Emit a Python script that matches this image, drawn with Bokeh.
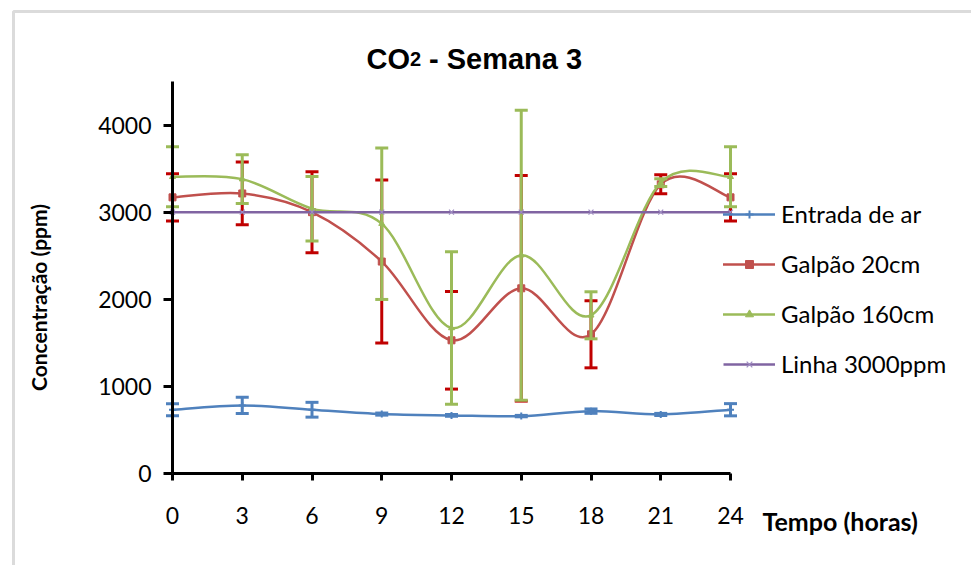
import numpy as np
from bokeh.plotting import figure
from bokeh.models import (ColumnDataSource, FixedTicker, Label, Legend, LegendItem,
                          BoxAnnotation, Range1d)
from bokeh.embed import file_html
from bokeh.resources import INLINE

# ---- data (CO2 concentration, ppm) ----
hours = [0, 3, 6, 9, 12, 15, 18, 21, 24]
entrada = [732, 782, 732, 682, 667, 659, 716, 678, 732]
entrada_err = [70, 93, 85, 12, 10, 8, 25, 12, 70]
galpao20 = [3170, 3215, 3000, 2433, 1529, 2126, 1598, 3320, 3170]
galpao20_err = [272, 360, 465, 935, 560, 1295, 385, 110, 272]
galpao160 = [3406, 3379, 3040, 2868, 1670, 2506, 1816, 3340, 3406]
galpao160_err = [345, 280, 370, 870, 875, 1665, 270, 45, 345]
linha = [3000] * len(hours)

x_ticks = [0, 3, 6, 9, 12, 15, 18, 21, 24]
y_ticks = [0, 1000, 2000, 3000, 4000]

W, H = 971, 565
# plot area (axes box) in canvas pixels
AX_L, AX_R, AX_T, AX_B = 172, 730, 81, 473
X_MAX, Y_MAX = 24, 4500


def dx(px):
    """canvas x pixel -> data x"""
    return (px - AX_L) * X_MAX / (AX_R - AX_L)


def dy(py):
    """canvas y pixel -> data y"""
    return (AX_B - py) * Y_MAX / (AX_B - AX_T)


# the frame spans the whole canvas so titles, legend and border are not clipped
p = figure(width=W, height=H, output_backend="svg", toolbar_location=None,
           x_range=Range1d(dx(0), dx(W)), y_range=Range1d(dy(H), dy(0)),
           min_border=0)
p.background_fill_color = "white"
p.border_fill_color = "white"
p.outline_line_color = None
p.grid.visible = False

for ax in (p.xaxis[0], p.yaxis[0]):
    ax.fixed_location = 0
    ax.axis_line_width = 3
    ax.axis_line_color = "black"
    ax.major_tick_line_width = 3
    ax.major_tick_line_color = "black"
    ax.major_tick_in = 0
    ax.minor_tick_line_color = None
    ax.major_label_text_font = "Lato"
    ax.major_label_text_font_size = "23px"
    ax.major_label_text_color = "black"

p.xaxis.bounds = (0, X_MAX)
p.xaxis.ticker = FixedTicker(ticks=x_ticks)
p.xaxis.major_tick_out = 7
p.xaxis.major_label_standoff = 26
p.yaxis.bounds = (0, Y_MAX)
p.yaxis.ticker = FixedTicker(ticks=y_ticks)
p.yaxis.major_tick_out = 9
p.yaxis.major_label_standoff = 12


def smooth_segments(xs, ys):
    """Cubic Bezier segments (Catmull-Rom style) through the data points."""
    x = np.asarray(xs, float)
    y = np.asarray(ys, float)
    xp = np.concatenate([[x[0]], x, [x[-1]]])
    yp = np.concatenate([[y[0]], y, [y[-1]]])
    d = dict(x0=[], y0=[], x1=[], y1=[], cx0=[], cy0=[], cx1=[], cy1=[])
    for i in range(len(x) - 1):
        x0, x1, x2, x3 = xp[i], xp[i + 1], xp[i + 2], xp[i + 3]
        y0, y1, y2, y3 = yp[i], yp[i + 1], yp[i + 2], yp[i + 3]
        d["x0"].append(x1); d["y0"].append(y1)
        d["x1"].append(x2); d["y1"].append(y2)
        d["cx0"].append(x1 + (x2 - x0) / 6); d["cy0"].append(y1 + (y2 - y0) / 6)
        d["cx1"].append(x2 - (x3 - x1) / 6); d["cy1"].append(y2 - (y3 - y1) / 6)
    return ColumnDataSource(d)


series = [
    ("Entrada de ar", entrada, entrada_err, "#4F81BD", "#4F81BD", "cross", 7),
    ("Galpão 20cm", galpao20, galpao20_err, "#C0504D", "#C00000", "square", 7),
    ("Galpão 160cm", galpao160, galpao160_err, "#9BBB59", "#9BBB59", "triangle", 6),
]

items = []
for name, vals, err, col, ecol, marker, msize in series:
    line = p.bezier(x0="x0", y0="y0", x1="x1", y1="y1", cx0="cx0", cy0="cy0",
                    cx1="cx1", cy1="cy1", source=smooth_segments(hours, vals),
                    line_color=col, line_width=2.5, line_cap="round")
    lo = [v - e for v, e in zip(vals, err)]
    hi = [v + e for v, e in zip(vals, err)]
    src = ColumnDataSource(dict(x=hours, y=vals, lo=lo, hi=hi))
    p.segment(x0="x", y0="lo", x1="x", y1="hi", source=src,
              line_color=ecol, line_width=3)
    p.scatter(x="x", y="lo", source=src, marker="dash", size=13,
              line_color=ecol, line_width=3)
    p.scatter(x="x", y="hi", source=src, marker="dash", size=13,
              line_color=ecol, line_width=3)
    if marker == "cross":
        mk = p.scatter(x="x", y="y", source=src, marker=marker, size=msize,
                       line_color=col, line_width=2)
    else:
        mk = p.scatter(x="x", y="y", source=src, marker=marker, size=msize,
                       line_color=col, fill_color=col)
    items.append(LegendItem(label=name, renderers=[line, mk]))

lsrc = ColumnDataSource(dict(x=hours, y=linha))
pl = p.line(x="x", y="y", source=lsrc, line_color="#8064A2", line_width=2.5)
pm = p.scatter(x="x", y="y", source=lsrc, marker="x", size=7,
               line_color="#9F8CC2", line_width=1.2)
items.append(LegendItem(label="Linha 3000ppm", renderers=[pl, pm]))

legend = Legend(items=items, location=(723, 187), margin=0, padding=0,
                spacing=21, glyph_width=52, glyph_height=20, label_height=20,
                label_standoff=6, label_text_font="Lato",
                label_text_font_size="24px", label_text_color="black",
                background_fill_alpha=0, border_line_color=None)
p.add_layout(legend)

# chart title with subscript
tfont = "Liberation Sans"
tx, ty = 366, 58
p.add_layout(Label(x=dx(tx), y=dy(ty), text="CO", text_font=tfont,
                   text_font_size="29px", text_font_style="bold",
                   text_color="black",
                   text_baseline="alphabetic", text_align="left"))
p.add_layout(Label(x=dx(tx + 43.5), y=dy(ty), text="2", text_font=tfont,
                   text_font_size="20px", text_font_style="bold",
                   text_color="black",
                   text_baseline="alphabetic", text_align="left"))
p.add_layout(Label(x=dx(tx + 43.5 + 11 + 8), y=dy(ty), text="- Semana 3",
                   text_font=tfont, text_font_size="29px",
                   text_font_style="bold", text_color="black",
                   text_baseline="alphabetic", text_align="left"))

# axis titles
p.add_layout(Label(x=dx(38), y=dy(297), text="Concentração (ppm)",
                   text_font="Lato", text_font_size="21px",
                   text_font_style="bold", text_color="black",
                   angle=np.pi / 2,
                   text_align="center", text_baseline="middle"))
p.add_layout(Label(x=dx(762), y=dy(520), text="Tempo (horas)",
                   text_font="Lato", text_font_size="25px",
                   text_font_style="bold", text_color="black",
                   text_align="left", text_baseline="middle"))

# outer chart border
p.add_layout(BoxAnnotation(left=dx(13), right=dx(2000), top=dy(11),
                           bottom=dy(2000), fill_alpha=0,
                           line_color="#878787", line_width=3))

open("out.html", "w").write(file_html(p, INLINE))
